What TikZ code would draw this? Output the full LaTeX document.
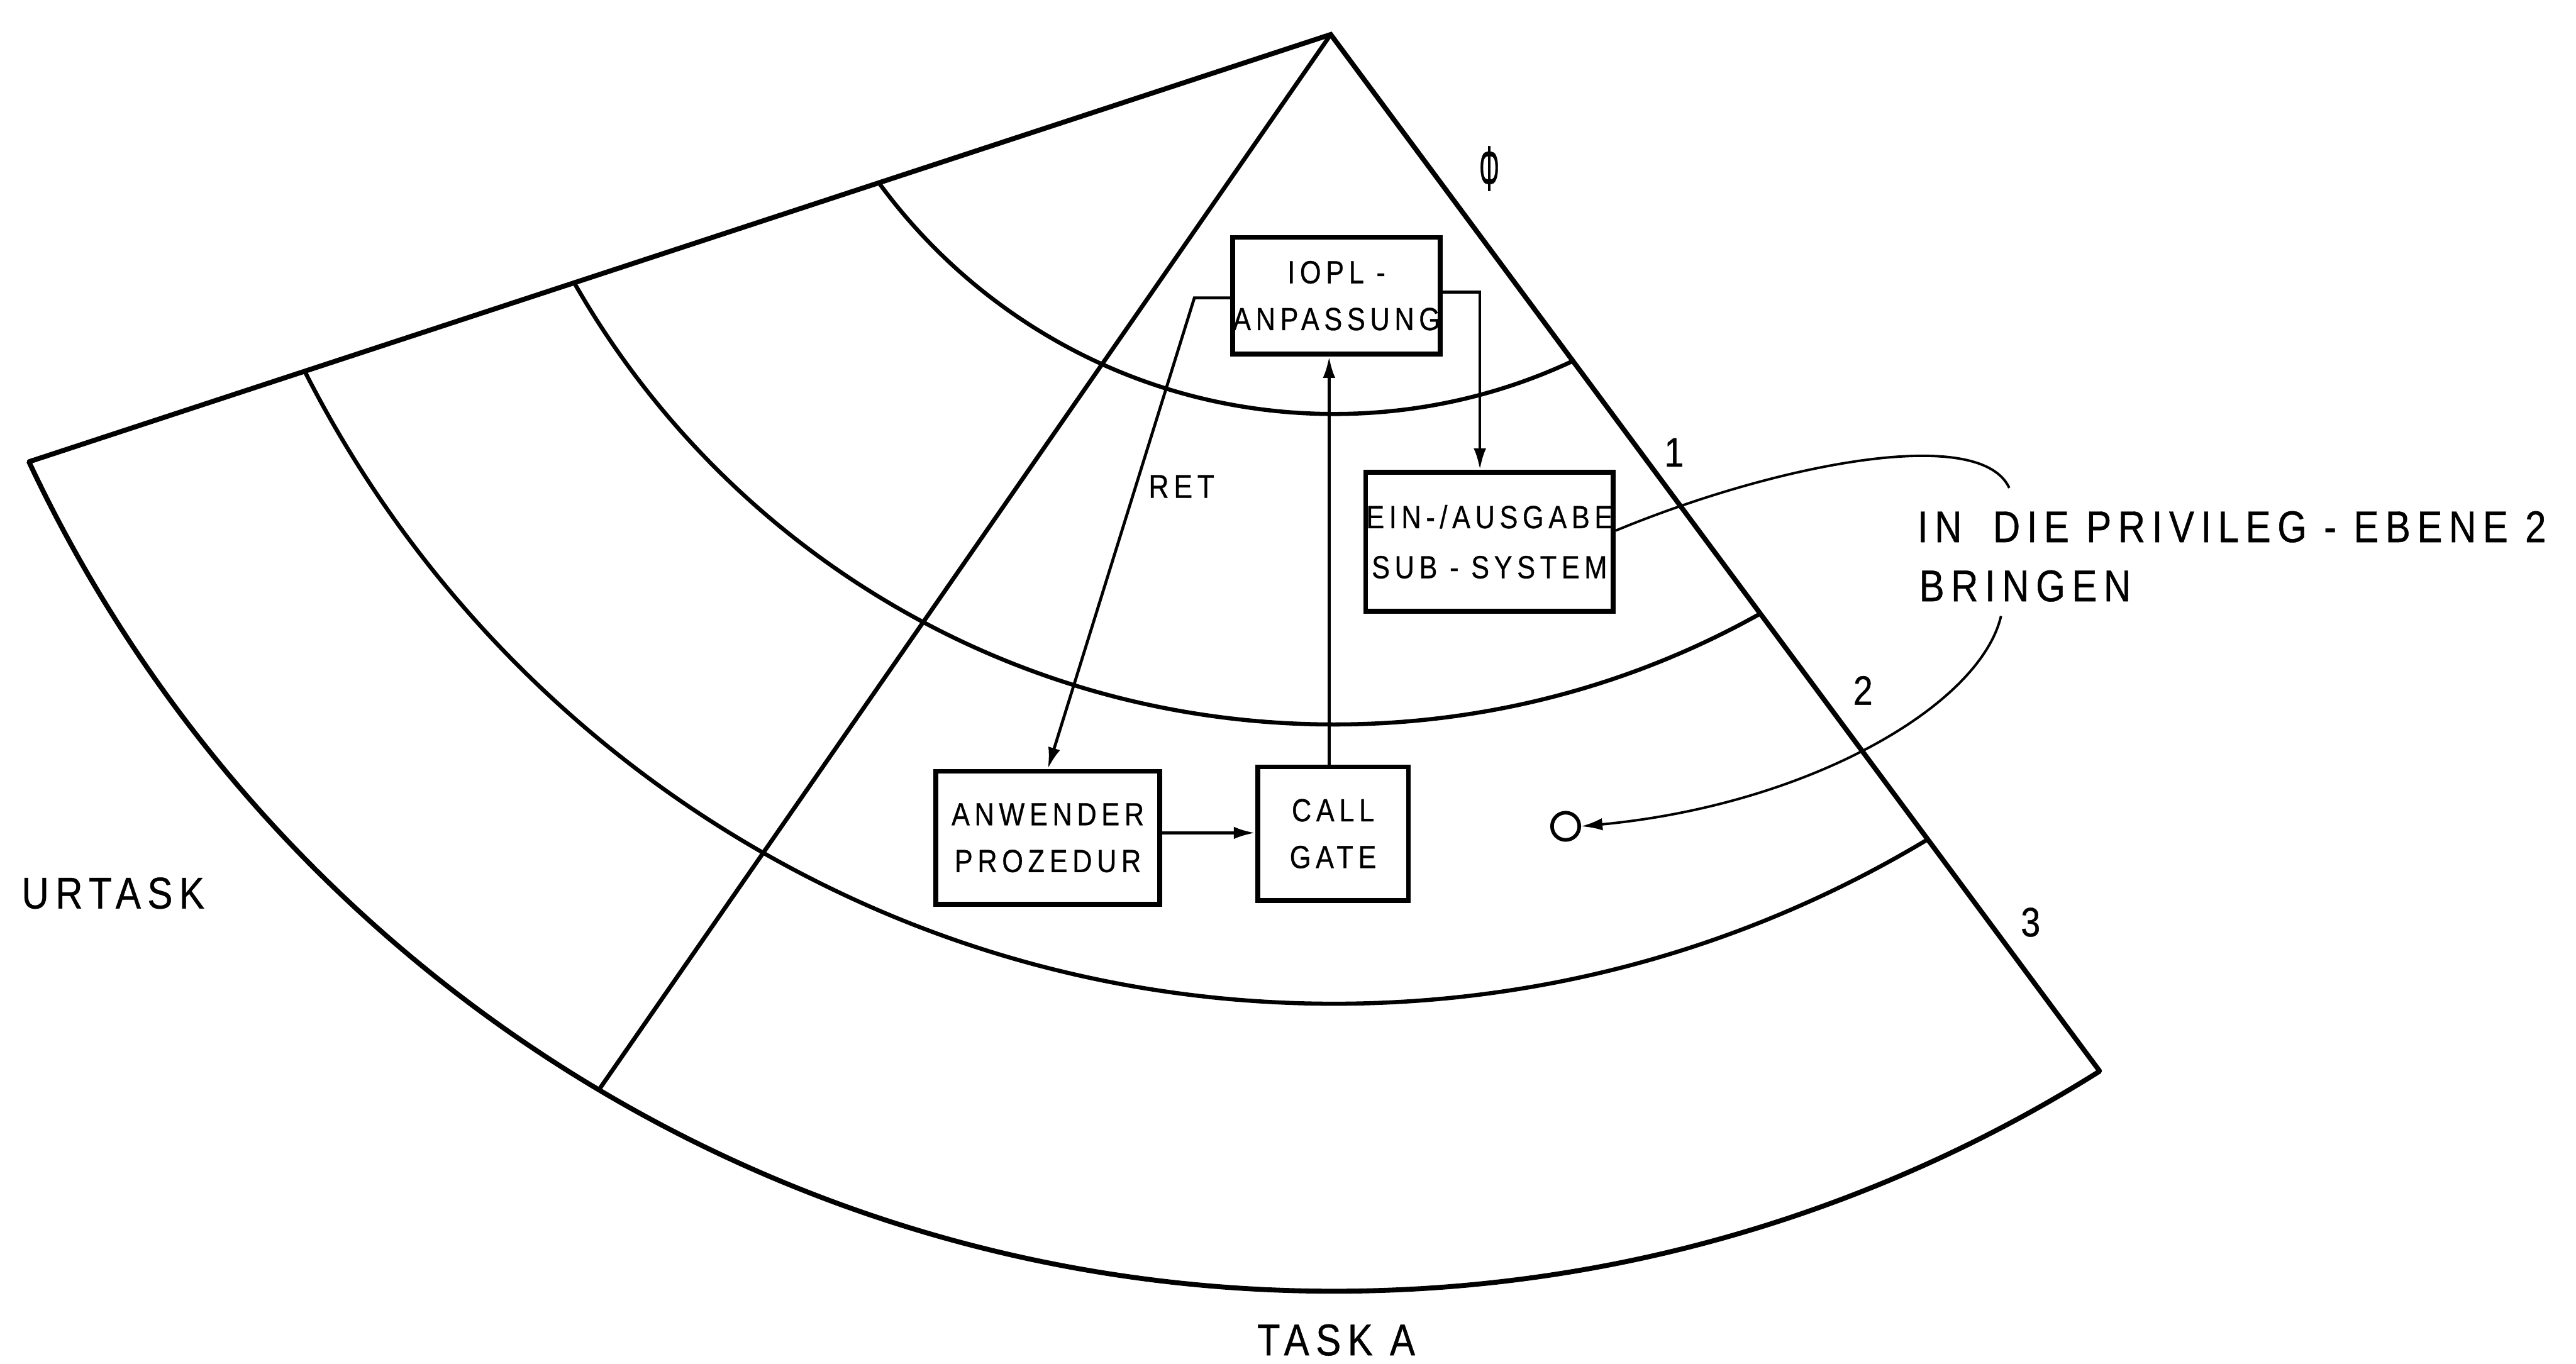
\documentclass[tikz,border=0pt]{standalone}
\usepackage{fontspec}
\newfontfamily\lettering{Liberation Sans}[FakeStretch=0.85,LetterSpace=15,FakeBold=0.6]
\usetikzlibrary{arrows.meta,calc}

\tikzset{
  sectoredge/.style={line width=3pt, line join=miter, line cap=round},
  ringline/.style={line width=2.5pt},
  outerline/.style={line width=3pt},
  procbox/.style={draw, rectangle, line width=3pt, inner sep=0pt, align=center,
                  font=\fontsize{19.5}{28.5}\lettering},
  flow/.style={line width=1.8pt, -{Latex[length=13pt,width=7.5pt]}},
  leader/.style={line width=1.5pt},
  bigtext/.style={font=\fontsize{27}{37}\lettering, inner sep=0pt, anchor=base west},
  ringnum/.style={font=\fontsize{25}{30}\lettering, inner sep=0pt, anchor=base},
}

\begin{document}
\begin{tikzpicture}[x=1pt,y=-1pt]
\fill[white] (0,0) rectangle (1568,830);
\useasboundingbox (0,0) rectangle (1568,830);

% geometry of the two task sectors and the privilege rings
\coordinate (C) at (812,-91);   % common centre of the ring arcs
\coordinate (A) at (810,21);    % apex of both sectors
\coordinate (L) at ($(C)!877pt!(20,280)$);
\coordinate (R) at ($(C)!877pt!(1278,652)$);
\coordinate (M) at ($(C)!877pt!(363,666)$);

\begin{scope}
  \clip (A) -- ($(A)!2!(L)$) -- (-800,1400) -- (1760,1400) -- ($(A)!2!(R)$) -- cycle;
  \foreach \r in {343,532,702} \draw[ringline] (C) circle[radius=\r];
  \draw[outerline] (C) circle[radius=877];
\end{scope}

\draw[sectoredge] (L) -- (A) -- (R);
\draw[sectoredge, line width=2.6pt] (A) -- (M);

% ring numbers
\node[ringnum, font=\fontsize{30}{30}\lettering] (r0) at (906.5,116) {\scalebox{0.6}[1.3]{Φ}};
\node[ringnum] (r1) at (1019,284) {1};
\node[ringnum] (r2) at (1134,429) {2};
\node[ringnum] (r3) at (1236,570) {3};

% procedure boxes
\node[procbox, minimum width=126, minimum height=71] (iopl) at (813.5,180) {IOPL -\\ANPASSUNG};
\node[procbox, minimum width=150.7, minimum height=84.6, font=\fontsize{19.5}{30.5}\lettering] (io) at (906.6,329.8) {EIN-/AUSGABE\\SUB - SYSTEM};
\node[procbox, minimum width=136.5, minimum height=81] (anw) at (637.8,510) {ANWENDER\\PROZEDUR};
\node[procbox, minimum width=91.8, minimum height=81.3] (gate) at (811.4,507.5) {CALL\\GATE};

% connectors
\coordinate (b1) at (900.8,177.7);
\coordinate (b2) at (727,181.3);
\coordinate (xg) at (809,0);
\coordinate (yg) at (0,507);
\draw[flow] (iopl.east |- b1) -- (b1) -- (b1 |- io.north);
\draw[flow] (iopl.west |- b2) -- (b2) -- (anw.north);
\draw[flow] (gate.north -| xg) -- (iopl.south -| xg);
\draw[flow] (anw.east |- yg) -- (gate.west |- yg);
\node[bigtext, font=\fontsize{20}{24}\lettering] (ret) at (699,303) {RET};

% target ring 2 and its leader
\node[draw, circle, line width=2.2pt, minimum size=16.6, inner sep=0pt] (target) at (953,503) {};
\coordinate (yl) at (0,323);
\coordinate (c1) at (1223,297);
\coordinate (c2) at (1218,375);
\draw[leader] (io.east |- yl) .. controls (1080,283) and (1205,258) .. (c1);
\draw[leader, -{Latex[length=13pt,width=7.5pt]}] (c2) .. controls (1205,430) and (1100,490) .. (target.east);

% captions
\node[bigtext] (note1) at (1167,330) {IN\hspace{0.7em}DIE PRIVILEG - EBENE 2};
\node[bigtext] (note2) at (1168,366) {BRINGEN};
\node[bigtext] (urtask) at (13,553) {URTASK};
\node[bigtext] (taska) at (765,825) {TASK A};
\end{tikzpicture}
\end{document}
